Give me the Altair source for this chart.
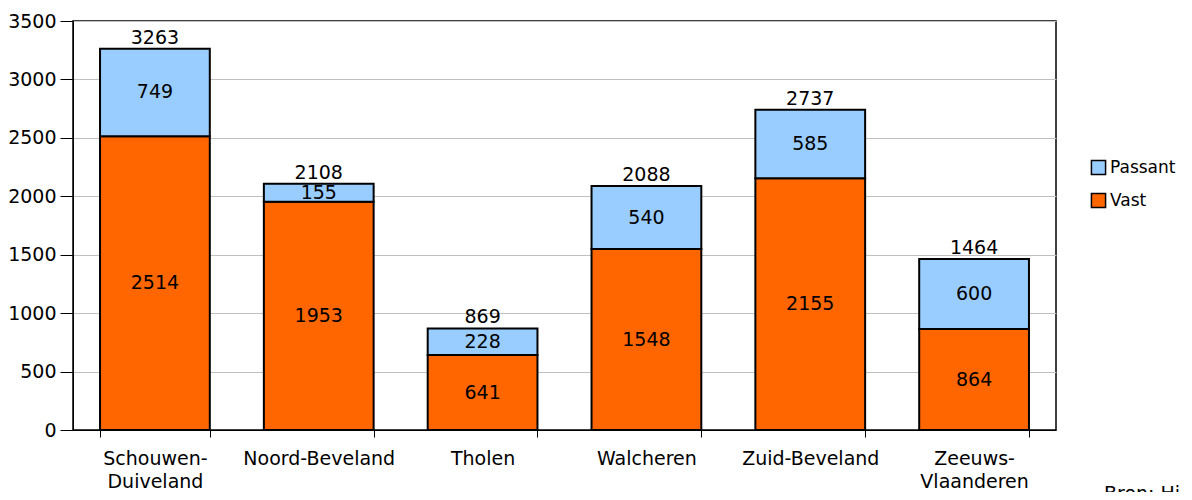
import altair as alt
import pandas as pd

regions = ["Schouwen-\nDuiveland", "Noord-Beveland", "Tholen", "Walcheren", "Zuid-Beveland", "Zeeuws-\nVlaanderen"]
vast = [2514, 1953, 641, 1548, 2155, 864]
passant = [749, 155, 228, 540, 585, 600]
totals = [3263, 2108, 869, 2088, 2737, 1464]
series = ["Passant", "Vast"]
colors = ["#99CCFF", "#FF6600"]
y_ticks = [0, 500, 1000, 1500, 2000, 2500, 3000, 3500]

rows = []
for r, v, p in zip(regions, vast, passant):
    rows.append({"regio": r, "serie": "Vast", "waarde": v, "volgorde": 0, "y0": 0, "y1": v})
    rows.append({"regio": r, "serie": "Passant", "waarde": p, "volgorde": 1, "y0": v, "y1": v + p})
df = pd.DataFrame(rows)
df["mid"] = (df["y0"] + df["y1"]) / 2
tot = pd.DataFrame({"regio": regions, "totaal": totals})

FONT = "DejaVu Sans"
FS = 19

xenc = alt.X("regio:N", sort=regions, title=None,
             scale=alt.Scale(paddingInner=0.33, paddingOuter=0.165),
             axis=alt.Axis(labelAngle=0, labelExpr="split(datum.label, '\\n')",
                           tickBand="extent", domainColor="black", tickColor="black",
                           labelColor="black", labelFont=FONT, labelFontSize=FS,
                           labelPadding=12, tickSize=7, labelLineHeight=23))
yscale = alt.Scale(domain=[0, 3500], nice=False)

bars = alt.Chart(df).mark_bar(stroke="black", strokeWidth=2).encode(
    x=xenc,
    y=alt.Y("y0:Q", scale=yscale, title=None,
            axis=alt.Axis(values=y_ticks, format="d", domainColor="black", tickColor="black",
                          gridColor="#c0c0c0", labelColor="black", labelFont=FONT,
                          labelFontSize=FS, tickSize=13, labelPadding=4)),
    y2="y1:Q",
    color=alt.Color("serie:N", scale=alt.Scale(domain=series, range=colors),
                    legend=alt.Legend(title=None, orient="none", legendX=1017, legendY=138,
                                      symbolType="square", symbolSize=200,
                                      symbolStrokeColor="black", symbolStrokeWidth=1.5,
                                      labelFont=FONT, labelFontSize=17, labelColor="black",
                                      rowPadding=12, labelOffset=3)),
)

seg_labels = alt.Chart(df).mark_text(font=FONT, fontSize=FS, color="black", baseline="middle").encode(
    x=alt.X("regio:N", sort=regions),
    y=alt.Y("mid:Q", scale=yscale),
    text="waarde:Q",
)

tot_labels = alt.Chart(tot).mark_text(font=FONT, fontSize=FS, color="black", baseline="bottom", dy=-1).encode(
    x=alt.X("regio:N", sort=regions),
    y=alt.Y("totaal:Q", scale=yscale),
    text="totaal:Q",
)

bron = alt.Chart(tot.head(1)).mark_text(font=FONT, fontSize=FS, color="black", align="left",
                                         baseline="alphabetic").encode(
    x=alt.value(1031), y=alt.value(479), text=alt.value("Bron: Hi")
)

chart = alt.layer(bars, seg_labels, tot_labels, bron).properties(
    width=983, height=409,
    autosize=alt.AutoSizeParams(type="none"),
    padding={"left": 65, "top": 13, "right": 128, "bottom": 62},
).configure_view(stroke="black", strokeWidth=1.5).configure_axis(grid=False).configure_axisY(grid=True)

chart.save("out.html", embed_options={"renderer": "svg", "actions": False})
